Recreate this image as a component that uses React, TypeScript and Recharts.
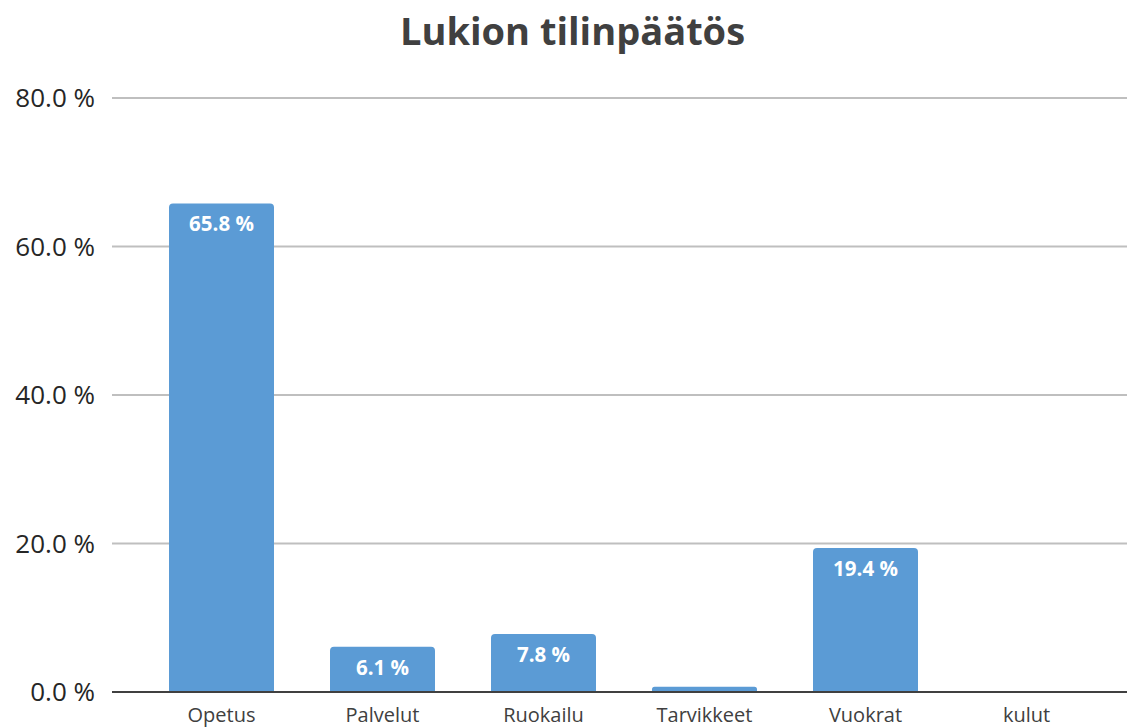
import React from "react";
import { Bar, BarChart, CartesianGrid, LabelList, XAxis, YAxis } from "recharts";

const categories = ["Opetus", "Palvelut", "Ruokailu", "Tarvikkeet", "Vuokrat", "kulut"];
const shares = [65.8, 6.1, 7.8, 0.7, 19.4, 0];
const yTicks = [0, 20, 40, 60, 80];
const hiddenLabels = ["Tarvikkeet", "kulut"];

const data = categories.map((name, i) => ({ name, value: shares[i] }));

const FONT = "'Open Sans', sans-serif";

const pct = (v: number) => `${v.toFixed(1)} %`;

const renderLabel = (props: any) => {
  const { x, y, width, value, index } = props;
  if (hiddenLabels.includes(categories[index])) return null;
  return (
    <text
      x={x + width / 2}
      y={y + 28}
      textAnchor="middle"
      fill="#ffffff"
      fontFamily={FONT}
      fontWeight={700}
      fontSize={20.5}
    >
      {pct(value)}
    </text>
  );
};

export default function App() {
  return (
    <div
      style={{
        position: "absolute",
        left: 0,
        top: 0,
        width: 1127,
        height: 728,
        background: "#ffffff",
        overflow: "hidden",
      }}
    >
      <div
        style={{
          position: "absolute",
          left: 0,
          top: 11,
          width: 1145,
          textAlign: "center",
          fontFamily: FONT,
          fontWeight: 700,
          fontSize: 38,
          lineHeight: "38px",
          color: "#404040",
        }}
      >
        Lukion tilinpäätös
      </div>
      <BarChart
        width={1127}
        height={728}
        data={data}
        margin={{ top: 98, right: 0, bottom: 0, left: 0 }}
      >
        <CartesianGrid vertical={false} stroke="#bfbfbf" strokeWidth={2} />
        <XAxis
          dataKey="name"
          height={36}
          padding={{ left: 29, right: 20 }}
          axisLine={{ stroke: "#404040", strokeWidth: 2 }}
          tickLine={false}
          tickSize={0}
          tickMargin={16}
          interval={0}
          tick={{ fill: "#404040", fontFamily: FONT, fontSize: 20 }}
        />
        <YAxis
          width={112}
          domain={[0, 80]}
          ticks={yTicks}
          axisLine={false}
          tickLine={false}
          tickSize={0}
          tickMargin={17}
          tickFormatter={pct}
          tick={{ fill: "#262626", fontFamily: FONT, fontSize: 26 }}
        />
        <Bar
          dataKey="value"
          fill="#5b9bd5"
          barSize={105}
          radius={[4, 4, 0, 0]}
          isAnimationActive={false}
        >
          <LabelList dataKey="value" content={renderLabel} />
        </Bar>
      </BarChart>
    </div>
  );
}
